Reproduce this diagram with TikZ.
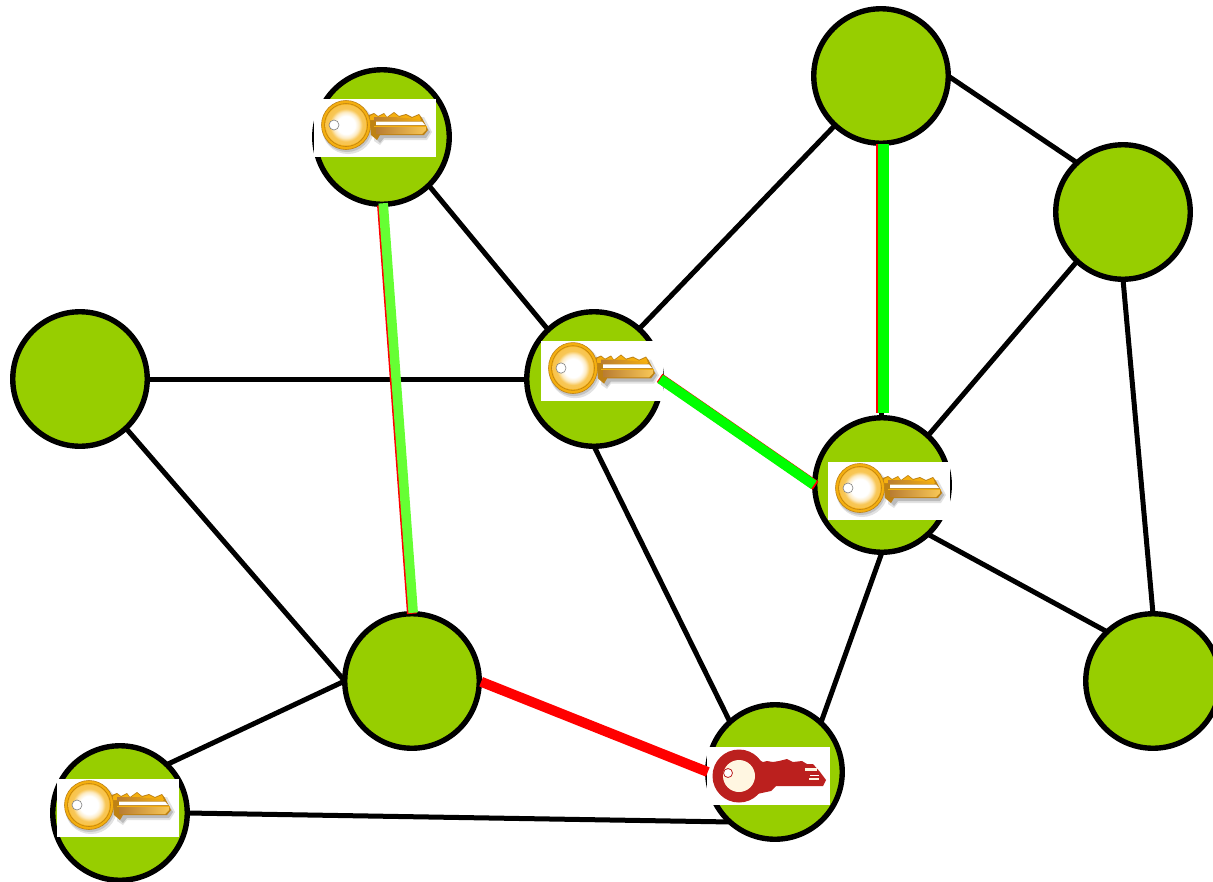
\documentclass[tikz,border=0pt]{standalone}
\definecolor{nodegreen}{RGB}{151,206,0}
\definecolor{limeline}{RGB}{102,255,51}
\definecolor{pureline}{RGB}{0,255,0}
\definecolor{keygold}{RGB}{245,175,15}
\definecolor{keyedge}{RGB}{190,130,20}
\definecolor{keybrown}{RGB}{185,125,50}
\definecolor{keyred}{RGB}{187,32,30}
\definecolor{keycream}{RGB}{255,246,225}
\pgfdeclareradialshading{keyhead}{\pgfpointorigin}{
  color(0pt)=(white); color(11pt)=(white); color(16pt)=(keygold!25!white); color(20pt)=(keygold!70!white); color(50pt)=(keygold)}
\tikzset{
  netnode/.style={circle,draw=black,fill=nodegreen,line width=5.4pt,minimum size=134.5pt,inner sep=0pt,outer sep=0pt},
  link/.style={draw=black,line width=5pt},
  redlink/.style={draw=red,line width=10pt},
  goldkey/.pic={
    \fill[white] (0,0) rectangle (122,58);
    \fill[black!45,opacity=.25] (60,18) -- (110,18) -- (118,33) -- (113,41) -- (70,41) -- (66,46) -- (60,42) -- cycle;
    \fill[black!45,opacity=.25] (34,29) circle[radius=26];
    \fill[black!45,opacity=.35] (33,28) circle[radius=25];
    \fill[black!45,opacity=.45] (62,20) -- (108,20) -- (116,33) -- (112,39) -- (70,39) -- (66,44) -- (62,40) -- cycle;
    \fill[keyedge] (55,16) -- (60,14) -- (64,17) -- (70,14) -- (73,18) -- (80,13) -- (85,17) -- (92,15) -- (98,18) -- (105,15) -- (108,19) -- (114,31) -- (110,36) -- (66,36) -- (63,41) -- (57,36) -- cycle;
    \fill[keygold] (56,17) -- (60,15) -- (64,18) -- (70,15) -- (73,19) -- (80,14) -- (85,18) -- (92,16) -- (98,19) -- (105,16) -- (107,21) -- (56,21) -- cycle;
    \shade[left color=keybrown,right color=keygold] (60,18) -- (80,18) -- (104,20) -- (107,22) -- (60,22) -- cycle;
    \fill[white] (62,22.5) -- (108,22.5) -- (111,26) -- (62,26) -- cycle;
    \shade[left color=keybrown,right color=keygold!70!white] (62,28) -- (112,28) -- (112,31) -- (108,35) -- (62,35) -- cycle;
    \draw[keygold,line width=1pt] (60,27) -- (113,27);
    \fill[keygold] (32,26) circle[radius=24.5];
    \draw[keyedge,line width=.6pt] (32,26) circle[radius=24.5];
    \draw[keyedge,line width=.6pt] (32,26) circle[radius=21.5];
    \shade[shading=keyhead] (32,26) circle[radius=20.5];
    \fill[white] (20,26) circle[radius=5];
    \draw[black!50,line width=.6pt] (20,26) circle[radius=5];
  },
  redkey/.pic={
    \fill[white] (0,0) rectangle (123,58);
    \fill[keyred] (50,12) -- (56,15) -- (60,14) -- (66,15) -- (72,14) -- (80,12) -- (86,15) -- (95,14) -- (100,17) -- (106,17) -- (113,25) -- (119,33) -- (116,39) -- (69,39) -- (64,44) -- (50,47) -- cycle;
    \fill[keyred] (32,29) circle[radius=26.5];
    \fill[keycream] (32,29) circle[radius=16];
    \fill[white] (21,26) circle[radius=4.5];
    \draw[keyred,line width=.8pt] (21,26) circle[radius=4.5];
    \fill[keycream] (98,21) rectangle (110,24);
    \fill[keycream] (102,31) rectangle (112,33);
    \fill[white] (103,27.5) rectangle (112,29);
  }
}
\begin{document}
\begin{tikzpicture}[x=1pt,y=-1pt]
\clip (0,0) rectangle (1213,881);
\node[netnode] (a) at (382,137) {};
\node[netnode] (b) at (881,76) {};
\node[netnode] (c) at (1123,212) {};
\node[netnode] (d) at (80,379) {};
\node[netnode] (e) at (594,379) {};
\node[netnode] (h) at (882,485) {};
\node[netnode] (g) at (412,681) {};
\node[netnode] (k) at (1153,681) {};
\node[netnode] (i) at (775,772) {};
\node[netnode] (j) at (120,813) {};
\draw[link] (d.east) -- (e.west);
\draw[link] (a.-46) -- (e.133);
\draw[link] (e.48) -- (b.227);
\draw[link] (b.east) -- (c.133);
\draw[link] (c.227) -- (h.47);
\draw[link] (c.south) -- (k.north);
\draw[link] (h.-47) -- (k.133);
\draw[link] (h.south) -- (i.47);
\draw[link] (e.south) -- (i.132);
\draw[link] (d.-47) -- (g.west);
\draw[link] (j.46) -- (g.west);
\draw[link] (j.east) -- (i.228);
\draw[link] (b.south) -- (b.south |- h.north);
% pictures of the keys
\pic at (314,99) {goldkey};
\pic[yscale=1.04] at (541,341) {goldkey};
\pic at (828,462) {goldkey};
\pic at (57,779) {goldkey};
\pic at (707,747) {redkey};
% coloured links
\draw[redlink,shorten <=2pt] (g.east) -- (i.west);
\draw[draw=red,line width=10pt,shorten >=5pt,shorten <=1pt] (b.south) -- (b.south |- h.north);
\draw[draw=pureline,line width=10.5pt,shorten >=5pt,shorten <=1pt,transform canvas={xshift=2.4pt}] (b.south) -- (b.south |- h.north);
\draw[draw=red,line width=10pt,shorten >=-1pt,shorten <=-2pt] (e.east) -- (h.west);
\draw[draw=pureline,line width=10pt,shorten >=2pt,shorten <=-2pt,transform canvas={xshift=.7pt,yshift=-1pt}] (e.east) -- (h.west);
\draw[draw=red,line width=10pt,shorten <=1pt] (a.south) -- (g.north);
\draw[draw=limeline,line width=9.5pt,transform canvas={xshift=1.2pt,yshift=1pt}] (a.south) -- (g.north);
\end{tikzpicture}
\end{document}
